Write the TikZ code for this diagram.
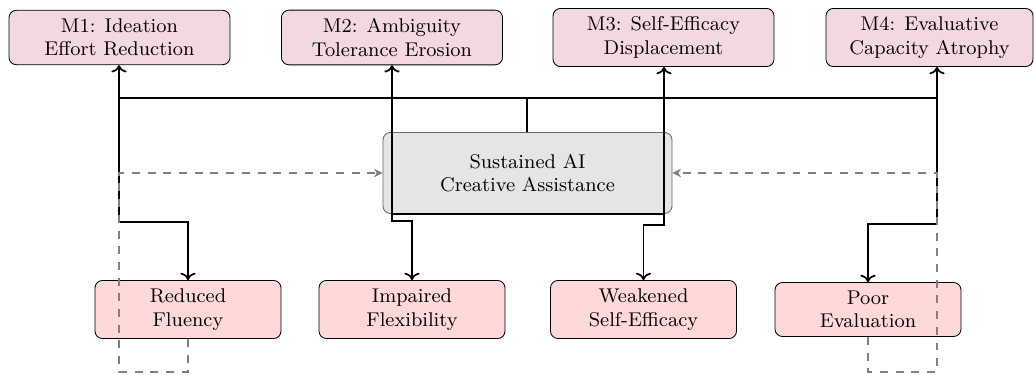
\documentclass[tikz,border=0pt]{standalone}
\usetikzlibrary{arrows.meta}
\definecolor{toppink}{RGB}{243,215,225}
\definecolor{botpink}{RGB}{255,217,217}
\begin{document}
\begin{tikzpicture}[x=0.465pt,y=-0.465pt,
  txt/.style={align=center, font=\rmfamily\fontsize{9.25}{10.9}\selectfont, inner xsep=2pt, inner ysep=3.9pt},
  mbox/.style={txt, draw=black, fill=toppink, rounded corners=3.5pt, minimum width=102.8pt},
  obox/.style={txt, draw=black, fill=botpink, rounded corners=3.5pt, minimum width=86.5pt},
  cbox/.style={txt, draw=black!60, fill=gray!20, rounded corners=3.5pt, minimum width=134.4pt, minimum height=37.7pt},
  blk/.style={draw=black, thick},
  arr/.style={blk, ->},
  fb/.style={draw=gray, thick, dash pattern=on 3.7pt off 3.6pt, -{Stealth[length=4pt,width=4pt]}}
]
\useasboundingbox (0,0) rectangle (1034,375);
\node[mbox] (M1) at (119.5,37.5) {M1: Ideation\\Effort Reduction};
\node[mbox] (M2) at (392,37.5) {M2: Ambiguity\\Tolerance Erosion};
\node[mbox] (M3) at (663.5,37.5) {M3: Self-Efficacy\\Displacement};
\node[mbox, minimum width=96.3pt] (M4) at (929.5,37.5) {M4: Evaluative\\Capacity Atrophy};
\node[cbox] (C) at (527.5,173) {Sustained AI\\Creative Assistance};
\node[obox] (R1) at (188,309.5) {Reduced\\Fluency};
\node[obox] (R2) at (412,309.5) {Impaired\\Flexibility};
\node[obox] (R3) at (643.5,309.5) {Weakened\\Self-Efficacy};
\node[obox] (R4) at (868,309.5) {Poor\\Evaluation};
\coordinate (j0) at (527,98);
\coordinate (j1) at (119,98);
\coordinate (j2) at (392,98);
\coordinate (j3) at (664,98);
\coordinate (j4) at (937,98);
\coordinate (k1) at (119,222);
\coordinate (k2) at (392,221);
\coordinate (k3) at (664,225);
\coordinate (k4) at (937,224);
\coordinate (d1) at (119,372);
\coordinate (d4) at (937,372);
\draw[blk] (j0 |- C.north) -- (j0);
\draw[blk] (j1) -- (j4);
\draw[arr] (j1) -- (j1 |- M1.south);
\draw[arr] (j2) -- (j2 |- M2.south);
\draw[arr] (j3) -- (j3 |- M3.south);
\draw[arr] (j4) -- (j4 |- M4.south);
\draw[arr] (j1) -- (k1) -| (R1.north);
\draw[arr] (j2) -- (k2) -| (R2.north);
\draw[arr] (j3) -- (k3) -| (R3.north);
\draw[arr] (j4) -- (k4) -| (R4.north);
\draw[blk] (k2 |- C.south) -- (k3 |- C.south);
\draw[fb] (R1.south) |- (d1) |- (C.west);
\draw[fb] (R4.south) |- (d4) |- (C.east);
\end{tikzpicture}
\end{document}
